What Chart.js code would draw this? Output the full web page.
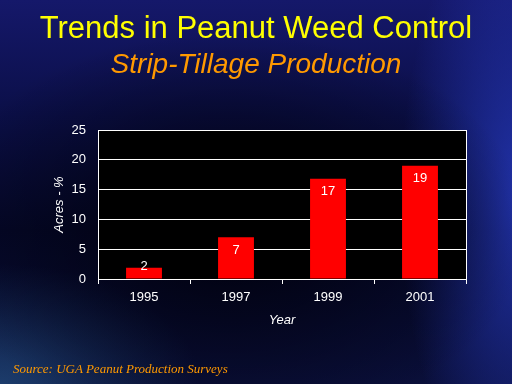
<!DOCTYPE html>
<html><head><meta charset="utf-8">
<script src="https://cdn.jsdelivr.net/npm/chart.js@4"></script>
<style>
html,body{margin:0;padding:0;}
body{width:512px;height:384px;overflow:hidden;position:relative;
background:
 radial-gradient(ellipse 300px 200px at 230px 230px, rgba(0,0,10,0.9), rgba(0,0,10,0) 100%),
 radial-gradient(ellipse 120px 300px at 520px 200px, rgba(40,60,200,0.8), rgba(40,60,200,0) 100%),
 radial-gradient(ellipse 200px 120px at 0px 384px, rgba(40,90,140,0.6), rgba(40,90,140,0) 100%),
 linear-gradient(180deg,#15186a 0%,#0b0f48 30%,#050829 60%,#0a0f3a 100%);
font-family:"Liberation Sans",Arial,sans-serif;}
#title{position:absolute;left:0;width:512px;top:10px;text-align:center;color:#ffff00;font-size:31px;line-height:36px;white-space:nowrap;}
#sub{position:absolute;left:0;width:512px;top:49px;text-align:center;color:#ff9900;font-size:28px;font-style:italic;line-height:30px;white-space:nowrap;}
#src{position:absolute;left:13px;top:361px;color:#ff9900;font-size:13px;font-style:italic;font-family:"Liberation Serif",serif;white-space:nowrap;}
#wrap{position:absolute;left:0;top:0;width:512px;height:384px;}
</style></head>
<body>
<div id="wrap"><canvas id="c" width="512" height="384"></canvas></div>
<div id="title">Trends in Peanut Weed Control</div>
<div id="sub">Strip-Tillage Production</div>
<div id="src">Source: UGA Peanut Production Surveys</div>
<script>
const years = ["1995","1997","1999","2001"];
const acresPct = [1.9, 7, 16.8, 19];
const valueLabels = ["2","7","17","19"];
const yTicks = [0,5,10,15,20,25];

const bgPlugin = {
  id:'bg',
  beforeDraw(chart){
    const {ctx, chartArea:a} = chart;
    ctx.save(); ctx.fillStyle='#000'; ctx.fillRect(a.left,a.top,a.right-a.left,a.bottom-a.top); ctx.restore();
  },
  afterDraw(chart){
    const {ctx, chartArea:a} = chart;
    ctx.save(); ctx.strokeStyle='#fff'; ctx.lineWidth=1;
    ctx.beginPath(); ctx.moveTo(Math.round(a.right)+0.5,a.top); ctx.lineTo(Math.round(a.right)+0.5,a.bottom); ctx.stroke();
    const meta = chart.getDatasetMeta(0);
    ctx.fillStyle='#fff'; ctx.font='13px "Liberation Sans", Arial, sans-serif';
    ctx.textAlign='center'; ctx.textBaseline='middle';
    meta.data.forEach((bar,i)=>{
      const y = Math.min(bar.y+13, bar.base-12);
      ctx.fillText(valueLabels[i], bar.x, y);
    });
    ctx.restore();
  }
};

new Chart(document.getElementById('c'),{
  type:'bar',
  data:{labels:years,datasets:[{data:acresPct,backgroundColor:'#ff0000',borderWidth:0,barPercentage:0.39,categoryPercentage:1}]},
  options:{
    responsive:false,animation:false,
    layout:{padding:{left:48,top:130,right:46,bottom:54}},
    plugins:{legend:{display:false},tooltip:{enabled:false},title:{display:false}},
    scales:{
      x:{
        grid:{display:true,drawOnChartArea:false,drawTicks:true,tickLength:5,color:'#fff',offset:true},
        border:{display:true,color:'#fff',width:1},
        ticks:{color:'#fff',font:{size:13,family:'"Liberation Sans", Arial, sans-serif'},padding:6},
        title:{display:true,text:'Year',color:'#fff',font:{size:13,style:'italic',family:'"Liberation Sans", Arial, sans-serif'},padding:{top:0,bottom:2}},
        afterFit(s){s.height=51;}
      },
      y:{
        min:0,max:25,
        afterBuildTicks(s){s.ticks=yTicks.map(v=>({value:v}));},
        grid:{color:'#fff',drawTicks:false,lineWidth:1},
        border:{display:true,color:'#fff',width:1},
        ticks:{color:'#fff',font:{size:13,family:'"Liberation Sans", Arial, sans-serif'},padding:12},
        title:{display:true,text:'Acres - %',color:'#fff',font:{size:13,style:'italic',family:'"Liberation Sans", Arial, sans-serif'},padding:{top:4,bottom:0}},
        afterFit(s){s.width=50;}
      }
    }
  },
  plugins:[bgPlugin]
});
</script>
</body></html>
